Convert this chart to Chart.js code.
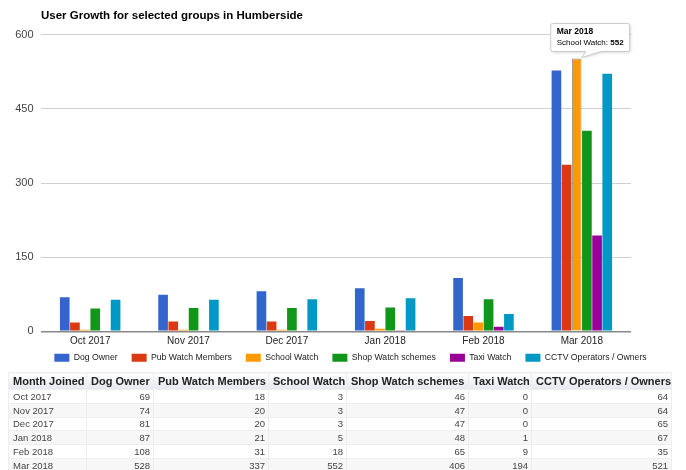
<!DOCTYPE html>
<html>
<head>
<meta charset="utf-8">
<script src="https://cdn.jsdelivr.net/npm/chart.js@4.4.0/dist/chart.umd.min.js"></script>
<style>
  body { margin: 0; background: #fff; font-family: 'Liberation Sans', Arial, sans-serif; }
  #wrap { position: relative; width: 686px; height: 384px; }
  #growth { position: absolute; left: 0; top: 0; }
  table { position: absolute; left: 8px; top: 372px; border-collapse: collapse; table-layout: fixed; width: 663px; }
  th { font-size: 11px; font-weight: bold; color: #222; height: 16px; padding: 0 4px; text-align: left; white-space: nowrap;
       background: linear-gradient(#ffffff, #e6e8ee); border: 1px solid #eee; }
  td { font-size: 9.5px; color: #444; height: 12.8px; padding: 0 3px 0 4px; border: 1px solid #eee; white-space: nowrap; }
  td.num { text-align: right; }
  tr.odd td { background: #fff; }
  tr.even td { background: #f7f7f7; }
</style>
</head>
<body>
<div id="wrap"><canvas id="growth" width="686" height="384"></canvas></div>
<table id="usertable"></table>
<script>
var months = ['Oct 2017', 'Nov 2017', 'Dec 2017', 'Jan 2018', 'Feb 2018', 'Mar 2018'];
var groupNames = ['Dog Owner', 'Pub Watch Members', 'School Watch', 'Shop Watch schemes', 'Taxi Watch', 'CCTV Operators / Owners'];
var dogOwner = [69, 74, 81, 87, 108, 528];
var pubWatch = [18, 20, 20, 21, 31, 337];
var schoolWatch = [3, 3, 3, 5, 18, 552];
var shopWatch = [46, 47, 47, 48, 65, 406];
var taxiWatch = [0, 0, 0, 1, 9, 194];
var cctv = [64, 64, 65, 67, 35, 521];
var yMax = 600;
var yStep = 150;
var colours = ['#3366cc', '#dc3912', '#ff9900', '#109618', '#990099', '#0099c6'];

var series = [dogOwner, pubWatch, schoolWatch, shopWatch, taxiWatch, cctv];
var font = "'Liberation Sans', Arial, sans-serif";

// the tooltip that is open on School Watch / Mar 2018
var openTip = { dataset: 2, index: 5 };

var tipPlugin = {
  id: 'openTip',
  afterLayout: function (chart) {
    // pull the legend row up, closer to the month labels
    chart.legend.top -= 12;
    chart.legend.bottom -= 12;
  },
  afterDraw: function (chart) {
    var el = chart.getDatasetMeta(openTip.dataset).data[openTip.index];
    var ctx = chart.ctx;
    var title = months[openTip.index];
    var label = groupNames[openTip.dataset] + ': ';
    var value = String(series[openTip.dataset][openTip.index]);

    ctx.save();
    ctx.font = '8px ' + font;
    var lw = ctx.measureText(label).width;
    ctx.font = 'bold 8px ' + font;
    var vw = ctx.measureText(value).width;
    var w = lw + vw + 12;
    var h = 28;
    var left = el.x - 26;
    var top = el.y - 35;

    ctx.shadowColor = 'rgba(0,0,0,0.18)';
    ctx.shadowBlur = 3;
    ctx.shadowOffsetX = 1;
    ctx.shadowOffsetY = 1;
    ctx.fillStyle = '#fff';
    ctx.strokeStyle = '#ccc';
    ctx.lineWidth = 1;
    ctx.beginPath();
    ctx.moveTo(left + 2, top);
    ctx.lineTo(left + w - 2, top);
    ctx.quadraticCurveTo(left + w, top, left + w, top + 2);
    ctx.lineTo(left + w, top + h - 2);
    ctx.quadraticCurveTo(left + w, top + h, left + w - 2, top + h);
    ctx.lineTo(el.x + 24, top + h);
    ctx.lineTo(el.x + 5, el.y - 1);
    ctx.lineTo(el.x + 9, top + h);
    ctx.lineTo(left + 2, top + h);
    ctx.quadraticCurveTo(left, top + h, left, top + h - 2);
    ctx.lineTo(left, top + 2);
    ctx.quadraticCurveTo(left, top, left + 2, top);
    ctx.closePath();
    ctx.fill();
    ctx.shadowColor = 'transparent';
    ctx.stroke();

    ctx.fillStyle = '#000';
    ctx.textBaseline = 'middle';
    ctx.font = 'bold 8.5px ' + font;
    ctx.fillText(title, left + 6, top + 8.5);
    ctx.font = '8px ' + font;
    ctx.fillText(label, left + 6, top + 19.5);
    ctx.font = 'bold 8px ' + font;
    ctx.fillText(value, left + 6 + lw, top + 19.5);
    ctx.restore();
  }
};

var datasets = [];
for (var i = 0; i < series.length; i++) {
  datasets.push({
    label: groupNames[i],
    data: series[i],
    backgroundColor: colours[i],
    borderColor: '#999',
    borderWidth: function (c) {
      return (c.datasetIndex === openTip.dataset && c.dataIndex === openTip.index) ? 1 : 0;
    },
    barPercentage: 0.95,
    categoryPercentage: 0.62
  });
}

var growthChart = new Chart(document.getElementById('growth'), {
  type: 'bar',
  data: { labels: months, datasets: datasets },
  plugins: [tipPlugin],
  options: {
    responsive: false,
    animation: false,
    layout: { padding: { left: 15, right: 0, top: 0, bottom: 0 } },
    plugins: {
      title: {
        display: true,
        text: 'User Growth for selected groups in Humberside',
        align: 'start',
        fullSize: false,
        color: '#000',
        font: { family: font, size: 11.5, weight: 'bold' },
        padding: { top: 9, bottom: 12 }
      },
      legend: {
        position: 'bottom',
        align: 'center',
        labels: {
          boxWidth: 15,
          boxHeight: 8,
          padding: 14,
          color: '#222',
          font: { family: font, size: 8.7 }
        }
      },
      tooltip: { enabled: false }
    },
    scales: {
      x: {
        grid: { display: false, drawTicks: false },
        border: { display: false },
        ticks: { color: '#222', padding: 5.5, font: { family: font, size: 10, lineHeight: '9px' } }
      },
      y: {
        min: 0,
        max: yMax,
        afterFit: function (s) { s.width = 26; },
        border: { display: false },
        grid: {
          drawTicks: false,
          color: function (c) { return c.tick && c.tick.value === 0 ? '#888' : '#d0d0d0'; },
          lineWidth: function (c) { return c.tick && c.tick.value === 0 ? 1.5 : 1; }
        },
        ticks: { stepSize: yStep, color: '#444', padding: 7.5, font: { family: font, size: 11 } }
      },
      // empty axis on the right only keeps the plot narrower than the legend row
      yRight: {
        position: 'right',
        afterFit: function (s) { s.width = 55; },
        grid: { display: false },
        border: { display: false },
        ticks: { display: false }
      }
    }
  }
});

// data table under the chart
var table = document.getElementById('usertable');
var widths = [78, 67, 115, 78, 122, 63, 140];
var cg = '<colgroup>';
for (var c = 0; c < widths.length; c++) cg += '<col style="width:' + widths[c] + 'px">';
cg += '</colgroup>';
var head = '<tr><th>Month Joined</th>';
for (var g = 0; g < groupNames.length; g++) head += '<th>' + groupNames[g] + '</th>';
head += '</tr>';
var rows = '';
for (var r = 0; r < months.length; r++) {
  rows += '<tr class="' + (r % 2 === 0 ? 'odd' : 'even') + '"><td>' + months[r] + '</td>';
  for (var k = 0; k < series.length; k++) rows += '<td class="num">' + series[k][r] + '</td>';
  rows += '</tr>';
}
table.innerHTML = cg + head + rows;
</script>
</body>
</html>
